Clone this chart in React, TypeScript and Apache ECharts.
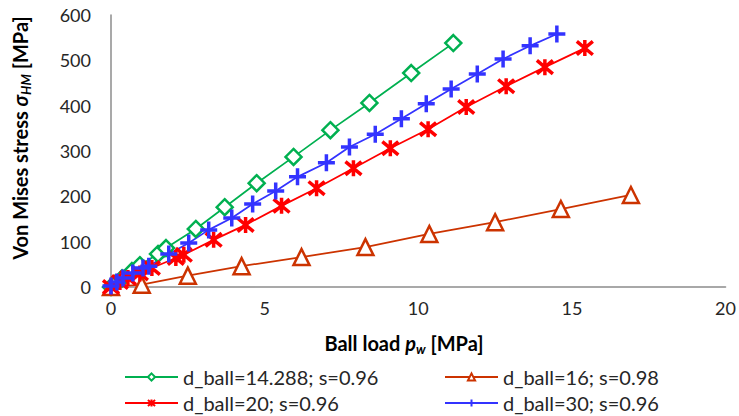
import React, { useEffect, useRef } from "react";
import * as echarts from "echarts";

const xTicks = [0, 5, 10, 15, 20];
const yTicks = [0, 100, 200, 300, 400, 500, 600];

const names = [
  "d_ball=14.288; s=0.96",
  "d_ball=16; s=0.98",
  "d_ball=20; s=0.96",
  "d_ball=30; s=0.96",
];

const greenX = [0, 0.13, 0.36, 0.68, 0.94, 1.53, 1.79, 2.76, 3.7, 4.74, 5.94, 7.14, 8.41, 9.77, 11.14];
const greenY = [0, 7, 19, 35, 48, 73, 86, 128, 176, 229, 287, 346, 406, 472, 538];

const orangeX = [0, 1.0, 2.5, 4.25, 6.2, 8.28, 10.36, 12.5, 14.64, 16.92];
const orangeY = [0, 5, 25, 46, 66, 88, 117, 143, 172, 203];

const redX = [0, 0.29, 0.55, 0.94, 1.33, 2.11, 2.37, 3.34, 4.38, 5.55, 6.69, 7.89, 9.09, 10.32, 11.56, 12.86, 14.12, 15.42];
const redY = [0, 11, 20, 30, 42, 64, 71, 104, 137, 179, 218, 262, 306, 348, 397, 443, 485, 527];

const blueX = [0, 0.19, 0.39, 0.71, 1.04, 1.23, 1.88, 2.53, 3.18, 3.93, 4.61, 5.36, 6.07, 7.01, 7.76, 8.6, 9.45, 10.26, 11.07, 11.92, 12.76, 13.64, 14.51];
const blueY = [2, 11, 20, 31, 42, 46, 73, 97, 126, 152, 183, 212, 243, 274, 309, 337, 371, 404, 437, 470, 503, 532, 558];

const FONT = "Lato, 'Noto Sans', sans-serif";

const zip = (xs: number[], ys: number[]) => xs.map((x, i) => [x, ys[i]]);

const ASTERISK = "path://M0,0 L10,10 M0,10 L10,0 M5,-1 L5,11";
const PLUS = "path://M0,5 L10,5 M5,0 L5,10";

export default function App() {
  const ref = useRef<HTMLDivElement>(null);
  useEffect(() => {
    if (!ref.current) return;
    const chart = echarts.init(ref.current, undefined, { renderer: "svg" });
    const mk = (
      name: string,
      data: number[][],
      color: string,
      symbol: string,
      size: number,
      fill: string,
      bw: number
    ) => ({
      name,
      type: "line",
      data,
      color,
      symbol,
      symbolSize: size,
      showSymbol: true,
      lineStyle: { color, width: 1.75 },
      itemStyle: { color: fill, borderColor: color, borderWidth: bw },
    });
    const leg = (name: string, left: number, top: number) => ({
      data: [name],
      left,
      top,
      padding: 0,
      itemWidth: 53,
      itemHeight: 9,
      textStyle: { fontFamily: FONT, fontSize: 20, color: "#262626", lineHeight: 24 },
    });
    const rich = {
      b: { fontFamily: FONT, fontSize: 20, fontWeight: "bold", fill: "#000", lineHeight: 24, verticalAlign: "middle" },
      i: { fontFamily: FONT, fontSize: 20, fontWeight: "bold", fontStyle: "italic", fill: "#000", lineHeight: 24, verticalAlign: "middle" },
      s: { fontFamily: FONT, fontSize: 13, fontWeight: "bold", fontStyle: "italic", fill: "#000", lineHeight: 24, verticalAlign: "bottom" },
    };
    chart.setOption({
      animation: false,
      grid: { left: 111, right: 12, top: 15, bottom: 129, containLabel: false },
      xAxis: {
        type: "value",
        min: 0,
        max: 20,
        interval: 5,
        axisLine: { show: true, lineStyle: { color: "#8c8c8c", width: 1.5 } },
        axisTick: { show: false },
        splitLine: { show: false },
        axisLabel: {
          color: "#262626",
          fontFamily: FONT,
          fontSize: 18,
          margin: 12,
          formatter: (v: number) => (xTicks.includes(v) ? String(v) : ""),
        },
      },
      yAxis: {
        type: "value",
        min: 0,
        max: 600,
        interval: 100,
        axisLine: { show: true, lineStyle: { color: "#8c8c8c", width: 1.5 } },
        axisTick: { show: false },
        splitLine: { show: false },
        axisLabel: {
          color: "#262626",
          fontFamily: FONT,
          fontSize: 18,
          margin: 20,
          formatter: (v: number) => (yTicks.includes(v) ? String(v) : ""),
        },
      },
      legend: [
        leg(names[0], 124, 365),
        leg(names[2], 124, 391),
        leg(names[1], 444, 365),
        leg(names[3], 444, 391),
      ],
      graphic: [
        {
          type: "text",
          x: 404,
          y: 343,
          style: {
            text: "{b|Ball load }{i|p}{s|w}{b| [MPa]}",
            align: "center",
            verticalAlign: "middle",
            rich,
          },
        },
        {
          type: "text",
          x: 20,
          y: 138,
          rotation: Math.PI / 2,
          style: {
            text: "{b|Von Mises stress }{i|σ}{s|HM}{b| [MPa]}",
            align: "center",
            verticalAlign: "middle",
            rich,
          },
        },
      ],
      series: [
        mk(names[0], zip(greenX, greenY), "#00B050", "diamond", 16, "#ffffff", 2.5),
        mk(names[1], zip(orangeX, orangeY), "#CC3300", "triangle", 16, "#ffffff", 2.5),
        mk(names[2], zip(redX, redY), "#FF0000", ASTERISK, 16, "none", 3.5),
        mk(names[3], zip(blueX, blueY), "#3333FF", PLUS, 17, "none", 3.5),
      ],
    });
    return () => chart.dispose();
  }, []);
  return <div ref={ref} style={{ width: 739, height: 416, position: "absolute", left: 0, top: 0 }} />;
}
